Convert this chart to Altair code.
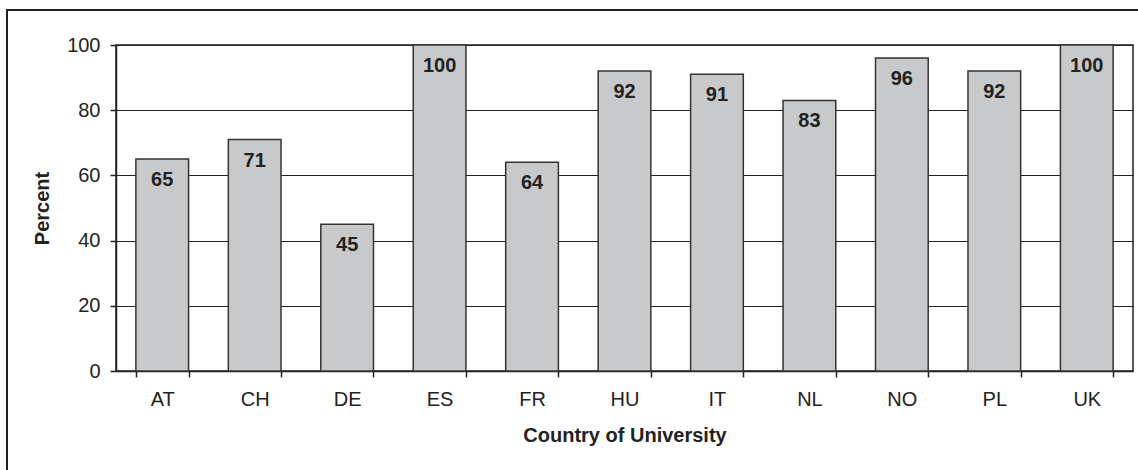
import altair as alt
import pandas as pd

countries = ["AT", "CH", "DE", "ES", "FR", "HU", "IT", "NL", "NO", "PL", "UK"]
percent = [65, 71, 45, 100, 64, 92, 91, 83, 96, 92, 100]

df = pd.DataFrame({"country": countries, "percent": percent})

FONT = "Liberation Sans"

x_enc = alt.X(
    "country:N",
    sort=countries,
    title="Country of University",
    scale=alt.Scale(paddingInner=0.43, paddingOuter=0.215),
    axis=alt.Axis(
        tickBand="extent",
        labelAngle=0,
        labelFontSize=20,
        labelPadding=12,
        tickSize=6,
        titleFontSize=20,
        titleFontWeight="bold",
        titlePadding=16,
    ),
)
y_enc = alt.Y(
    "percent:Q",
    title="Percent",
    scale=alt.Scale(domain=[0, 100], nice=False),
    axis=alt.Axis(
        values=[0, 20, 40, 60, 80, 100],
        labelFontSize=20,
        labelPadding=10,
        tickSize=6,
        titleFontSize=20,
        titleFontWeight="bold",
        titlePadding=14,
        grid=True,
    ),
)

bars = alt.Chart(df).mark_bar(
    fill="#c8c9cb", stroke="#333333", strokeWidth=1.5
).encode(x=x_enc, y=y_enc)

labels = alt.Chart(df).mark_text(
    baseline="top", dy=11, fontSize=20, fontWeight="bold", color="#222222", font=FONT
).encode(
    x=alt.X("country:N", sort=countries),
    y=alt.Y("percent:Q"),
    text="percent:Q",
)

# outer frame around the whole figure
frame = alt.Chart(df).mark_rect(
    fill=None, stroke="#222222", strokeWidth=1.5
).encode(
    x=alt.value(-109), x2=alt.value(1200), y=alt.value(-35), y2=alt.value(600)
)

chart = (
    alt.layer(frame, bars, labels)
    .properties(
        width=1017,
        height=326,
        autosize=alt.AutoSizeParams(type="none"),
        padding={"left": 116, "top": 45, "right": 5, "bottom": 99},
        background="white",
    )
    .configure_axis(
        labelFont=FONT,
        titleFont=FONT,
        labelColor="#222222",
        titleColor="#222222",
        domainColor="#222222",
        tickColor="#222222",
        gridColor="#222222",
        domainWidth=1.5,
        tickWidth=1.5,
        gridWidth=1,
    )
    .configure_view(stroke="#222222", strokeWidth=1.5)
)

chart.save("out.html", embed_options={"renderer": "svg", "actions": False})
